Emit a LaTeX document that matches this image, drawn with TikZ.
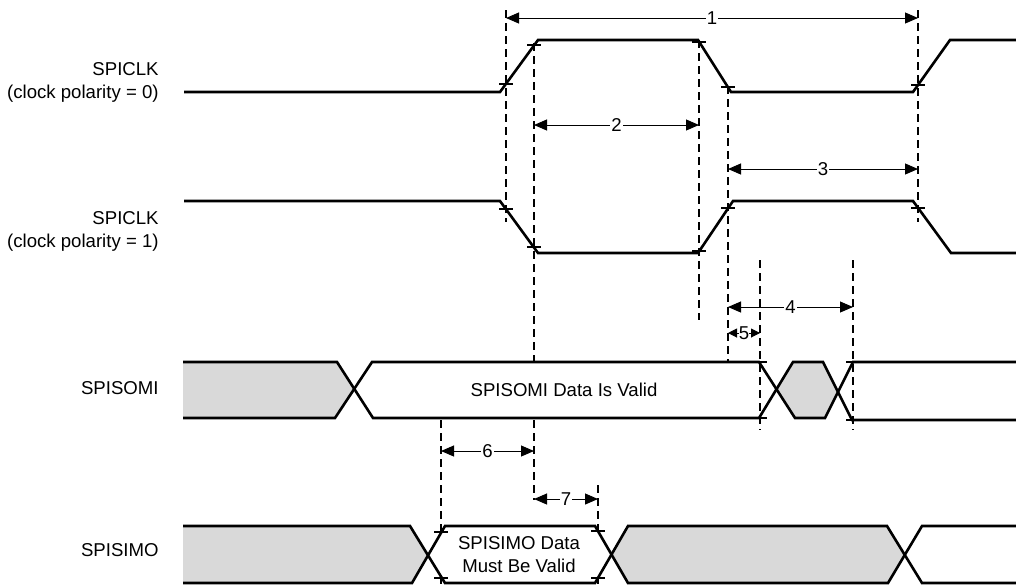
\documentclass[tikz,border=0pt]{standalone}
\usepackage{fontspec}
\setmainfont{Liberation Sans}
\usetikzlibrary{arrows.meta}

\begin{document}
\begin{tikzpicture}[
        x=0.5pt, y=-0.5pt,
        every node/.style = {font=\fontsize{9.3pt}{11.5pt}\selectfont},
        signal/.style = {line width=1.3pt},
        guide/.style = {line width=0.6pt, dash pattern=on 4pt off 2.5pt},
        tickmark/.style = {line width=0.6pt},
        busy/.style = {fill=gray!30},
        dim/.style = {line width=0.5pt, {Triangle[length=6.5pt,width=5.5pt]}-{Triangle[length=6.5pt,width=5.5pt]}},
        dimsmall/.style = {line width=0.5pt, {Triangle[length=4.5pt,width=4.5pt]}-{Triangle[length=4.5pt,width=4.5pt]}},
        num/.style = {fill=white, inner sep=0.6pt},
        siglabel/.style = {anchor=east, align=right, inner sep=0pt},
      ]
      \useasboundingbox (0,0) rectangle (1016,585);

      \foreach \x/\ya/\yb in {506/10/222, 918/10/222, 699/40/320, 728/86/362, 534/43/500, 441/420/585, 598/485/585}
        \draw[guide] (\x,\ya) -- (\x,\yb);

      \draw[signal] (184,92) -- (500,92) -- (538,40) -- (698,40) -- (731,92) -- (913,92) -- (950,40) -- (1016,40);
      \draw[signal] (184,201) -- (500,201) -- (538,253) -- (698,253) -- (733,201) -- (913,201) -- (951,253) -- (1016,253);

      \fill[busy] (183,362) -- (337,362) -- (354,390) -- (335,418) -- (183,418) -- cycle;
      \fill[white] (354,390) -- (372,362) -- (759,362) -- (777,390) -- (759,418) -- (373,418) -- cycle;
      \fill[busy] (777,390) -- (793,362) -- (823,362) -- (838,391) -- (825,418) -- (795,418) -- cycle;
      \draw[signal] (183,362) -- (337,362) -- (373,418) -- (759,418) -- (793,362) -- (823,362) -- (852,420) -- (1016,420);
      \draw[signal] (183,418) -- (335,418) -- (372,362) -- (759,362) -- (795,418) -- (825,418) -- (853,362) -- (1016,362);

      \fill[busy] (183,526) -- (410,526) -- (428,555) -- (412,583) -- (183,583) -- cycle;
      \fill[white] (428,555) -- (445,526) -- (595,526) -- (612,555) -- (595,583) -- (445,583) -- cycle;
      \fill[busy] (612,555) -- (628,526) -- (887,526) -- (905,555) -- (888,583) -- (628,583) -- cycle;
      \draw[signal] (183,526) -- (410,526) -- (445,583) -- (595,583) -- (628,526) -- (887,526) -- (922,583) -- (1016,583);
      \draw[signal] (183,583) -- (412,583) -- (445,526) -- (595,526) -- (628,583) -- (888,583) -- (922,526) -- (1016,526);

      \foreach \x in {760, 853}
        \draw[guide] (\x,260) -- (\x,430);

      \foreach \x/\y in {506/84, 534/45, 699/42, 728/87, 918/85, 506/209, 534/247, 699/251, 728/208, 918/208,
                         760/362, 760/418, 853/362, 853/420, 441/532, 441/578, 598/531, 598/578}
        \draw[tickmark] ({\x-7},\y) -- ({\x+7},\y);

      \foreach \n/\xa/\xb/\y in {1/506/918/18, 2/534/699/125, 3/728/918/169, 4/728/853/307, 6/441/534/451, 7/534/598/499} {
        \coordinate (t\n a) at (\xa,\y);
        \coordinate (t\n b) at (\xb,\y);
        \draw[dim] (t\n a) -- node[num] {\n} (t\n b);
      }
      \coordinate (t5a) at (728,333);
      \coordinate (t5b) at (760,333);
      \draw[dimsmall] (t5a) -- node[num, inner sep=0pt] {5} (t5b);

      \node[siglabel] (clk0) at (159,82) {SPICLK\\(clock polarity = 0)};
      \node[siglabel] (clk1) at (159,231) {SPICLK\\(clock polarity = 1)};
      \node[siglabel] (somi) at (159,388) {SPISOMI};
      \node[siglabel] (simo) at (159,550) {SPISIMO};
      \node (somitext) at (564,390) {SPISOMI Data Is Valid};
      \node[align=center] (simotext) at (519,555) {SPISIMO Data\\Must Be Valid};

    \end{tikzpicture}
\end{document}
